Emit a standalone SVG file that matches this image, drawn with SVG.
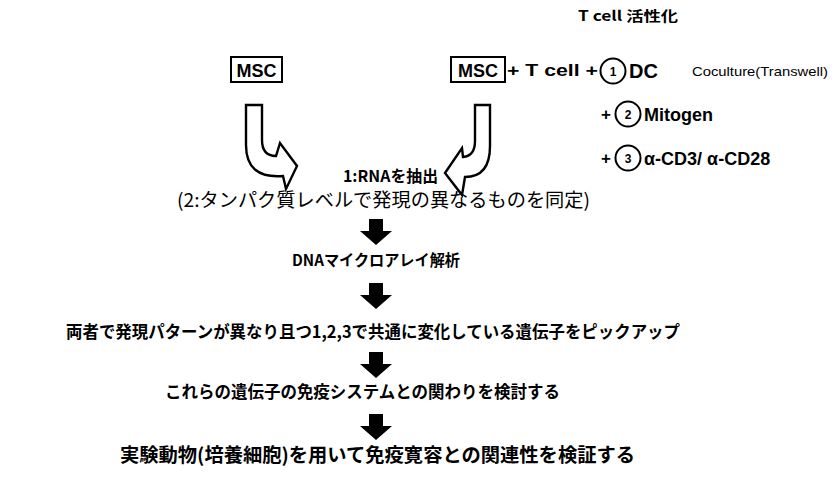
<svg xmlns="http://www.w3.org/2000/svg" width="834" height="501" viewBox="0 0 834 501">
<defs>
<style>
.b{font-family:"Liberation Sans","Noto Sans CJK JP",sans-serif;font-weight:bold;fill:#000}
.r{font-family:"Liberation Sans","Noto Sans CJK JP",sans-serif;font-weight:normal;fill:#000}
.j{font-family:"Noto Sans CJK JP","Liberation Sans",sans-serif;font-weight:bold;fill:#000}
.n{font-family:"Noto Sans CJK JP","Liberation Sans",sans-serif;font-weight:normal;fill:#000}
.box{fill:#fff;stroke:#000;stroke-width:2}
.circ{fill:#fff;stroke:#000;stroke-width:2}
.curv{fill:#fff;stroke:#000;stroke-width:2.4;stroke-linejoin:miter}
.blk{fill:#000}
</style>
<path id="down" d="M-7,0 H7 V12 H16 L0,26 L-16,12 H-7 Z"/>
</defs>
<rect width="834" height="501" fill="#fff"/>

<g id="title">
<text class="j" x="578" y="21" font-size="14" textLength="100" lengthAdjust="spacingAndGlyphs">T cell 活性化</text>
</g>

<g id="msc-left">
<rect class="box" x="231" y="57" width="51" height="25"/>
<text class="b" x="256.5" y="76.5" font-size="18" text-anchor="middle">MSC</text>
</g>

<g id="msc-right">
<rect class="box" x="451" y="57" width="54" height="25"/>
<text class="b" x="478" y="76.5" font-size="18" text-anchor="middle">MSC</text>
<text class="b" x="507" y="76" font-size="17" textLength="91" lengthAdjust="spacingAndGlyphs">+ T cell +</text>
</g>

<g id="cond1">
<circle class="circ" cx="613" cy="71" r="12.5"/>
<text class="b" x="613" y="75.5" font-size="12" text-anchor="middle">1</text>
<text class="b" x="629" y="78" font-size="20">DC</text>
<text class="r" x="692" y="76" font-size="13" textLength="136" lengthAdjust="spacingAndGlyphs">Coculture(Transwell)</text>
</g>

<g id="cond2">
<text class="b" x="601" y="120" font-size="17">+</text>
<circle class="circ" cx="628" cy="114" r="12.5"/>
<text class="b" x="628" y="118.5" font-size="12" text-anchor="middle">2</text>
<text class="b" x="644" y="121" font-size="18">Mitogen</text>
</g>

<g id="cond3">
<text class="b" x="601" y="164" font-size="17">+</text>
<circle class="circ" cx="628" cy="158" r="12.5"/>
<text class="b" x="628" y="162.5" font-size="12" text-anchor="middle">3</text>
<text class="b" x="644" y="165" font-size="18">α-CD3/ α-CD28</text>
</g>

<g id="connectors">
<path class="curv" d="M246,105 H262 V140 Q262,156 276,156 L280,143 L297,166 L286,189 L283,176 Q246,179 246,145 Z"/>
<path class="curv" d="M490,105 H475 V141 Q475,156 463,157 L462,148 L445,173 L462,195 L465,177 Q490,177 490,146 Z"/>
<use href="#down" x="376" y="219" class="blk"/>
<use href="#down" x="376" y="283" class="blk"/>
<use href="#down" x="376" y="352" class="blk"/>
<use href="#down" x="376" y="414" class="blk"/>
</g>

<g id="step1">
<text class="j" x="343" y="182" font-size="16" textLength="95" lengthAdjust="spacingAndGlyphs">1:RNAを抽出</text>
<text class="n" x="177" y="207" font-size="19" textLength="413" lengthAdjust="spacingAndGlyphs">(2:タンパク質レベルで発現の異なるものを同定)</text>
</g>

<g id="step2">
<text class="j" x="292" y="266" font-size="15.5" textLength="168" lengthAdjust="spacingAndGlyphs">DNAマイクロアレイ解析</text>
</g>

<g id="step3">
<text class="j" x="66" y="338" font-size="17" textLength="614" lengthAdjust="spacingAndGlyphs">両者で発現パターンが異なり且つ1,2,3で共通に変化している遺伝子をピックアップ</text>
</g>

<g id="step4">
<text class="j" x="165" y="398" font-size="17" textLength="395" lengthAdjust="spacingAndGlyphs">これらの遺伝子の免疫システムとの関わりを検討する</text>
</g>

<g id="step5">
<text class="j" x="120" y="462" font-size="19" textLength="515" lengthAdjust="spacingAndGlyphs">実験動物(培養細胞)を用いて免疫寛容との関連性を検証する</text>
</g>
</svg>
